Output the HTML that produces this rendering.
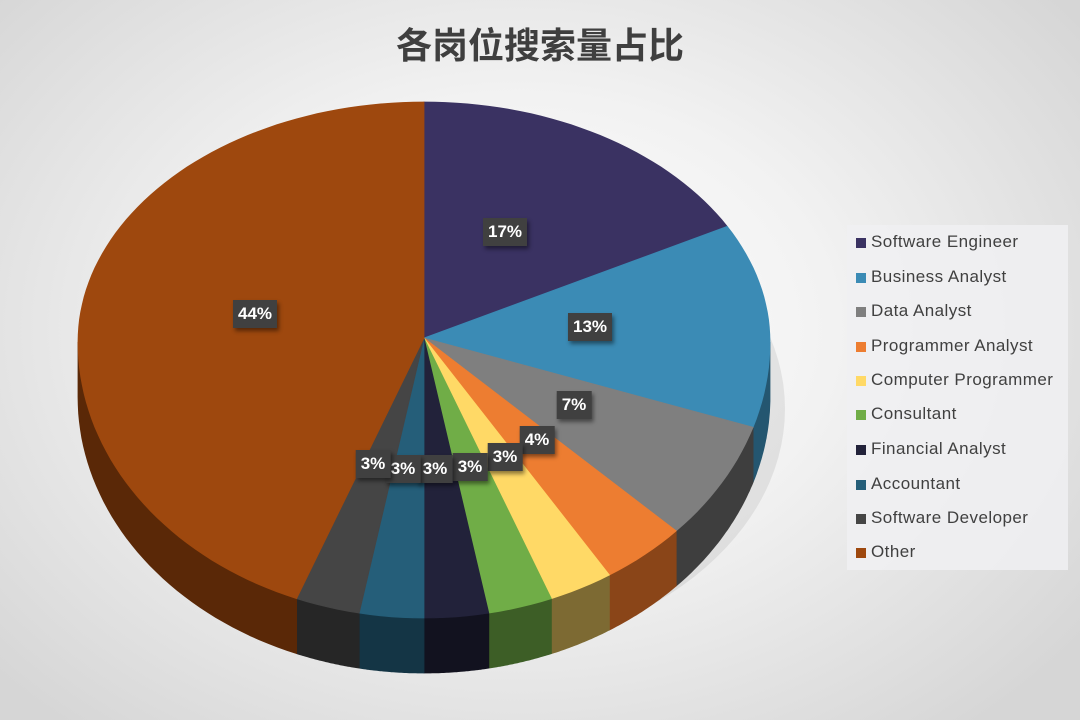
<!DOCTYPE html>
<html><head><meta charset="utf-8">
<style>
html,body{margin:0;padding:0;}
body{width:1080px;height:720px;overflow:hidden;position:relative;
background:radial-gradient(ellipse 700px 520px at 520px 330px,#ffffff 0%,#f2f2f2 45%,#d6d6d6 100%);
font-family:"Liberation Sans","Noto Sans CJK SC",sans-serif;}
.title{position:absolute;left:0;width:1080px;top:17px;text-align:center;font-size:36px;font-weight:bold;color:#3f3f3f;font-family:"Liberation Sans","Noto Sans CJK SC",sans-serif;}
.legend{position:absolute;left:847px;top:225px;width:221px;height:345px;background:rgba(240,240,242,0.85);}
.li{position:absolute;left:24px;font-size:17px;letter-spacing:0.45px;color:#404040;white-space:nowrap;}
.li i{position:absolute;left:-15px;top:6px;width:10px;height:10px;}
.lab{position:absolute;background:#404040;color:#fff;font-weight:bold;font-size:17px;padding:4px 5px;box-shadow:2px 3px 4px rgba(0,0,0,0.45);transform:translate(-50%,-50%);}
</style></head><body>
<div class="title">各岗位搜索量占比</div>
<svg id="pie" width="1080" height="720" style="position:absolute;left:0;top:0"></svg>
<div class="legend">
<div class="li" style="top:7px"><i style="background:#3a3262"></i>Software Engineer</div>
<div class="li" style="top:42px"><i style="background:#3b8bb5"></i>Business Analyst</div>
<div class="li" style="top:76px"><i style="background:#7f7f7f"></i>Data Analyst</div>
<div class="li" style="top:111px"><i style="background:#ed7d31"></i>Programmer Analyst</div>
<div class="li" style="top:145px"><i style="background:#ffd966"></i>Computer Programmer</div>
<div class="li" style="top:179px"><i style="background:#70ad47"></i>Consultant</div>
<div class="li" style="top:214px"><i style="background:#22223a"></i>Financial Analyst</div>
<div class="li" style="top:249px"><i style="background:#255e79"></i>Accountant</div>
<div class="li" style="top:283px"><i style="background:#454545"></i>Software Developer</div>
<div class="li" style="top:317px"><i style="background:#9e480e"></i>Other</div>
</div>
<div class="lab" style="left:505px;top:232px">17%</div>
<div class="lab" style="left:590px;top:327px">13%</div>
<div class="lab" style="left:574px;top:405px">7%</div>
<div class="lab" style="left:537px;top:440px">4%</div>
<div class="lab" style="left:505px;top:457px">3%</div>
<div class="lab" style="left:470px;top:467px">3%</div>
<div class="lab" style="left:435px;top:469px">3%</div>
<div class="lab" style="left:403px;top:469px">3%</div>
<div class="lab" style="left:373px;top:464px">3%</div>
<div class="lab" style="left:255px;top:314px">44%</div>
<script>
(function(){
var svg=document.getElementById('pie');
var cx=424,cy=342,rx=346,ax=424,ay=338,D=55;
var data=[[17,'#3a3262','#241e3e'],[13,'#3b8bb5','#245670'],[7,'#7f7f7f','#3e3e3e'],[4,'#ed7d31','#8a4518'],[3,'#ffd966','#7d6a33'],[3,'#70ad47','#3d5e26'],[3,'#22223a','#12121f'],[3,'#255e79','#143545'],[3,'#454545','#262626'],[44,'#9e480e','#5a2807']];
function pt(t,dy){var c=Math.cos(t);var ry=c>0?240:276;return [cx+rx*Math.sin(t),cy-ry*c+(dy||0)];}
var out='',tops='',a=0;
data.forEach(function(d){
 var a1=a*Math.PI/50, a2=(a+d[0])*Math.PI/50; a+=d[0];
 var s=Math.max(a1,Math.PI/2), e=Math.min(a2,3*Math.PI/2);
 if(e>s){
  var p='',n=40,i,q;
  for(i=0;i<=n;i++){q=pt(s+(e-s)*i/n);p+=(i?'L':'M')+q[0].toFixed(1)+' '+q[1].toFixed(1);}
  for(i=n;i>=0;i--){q=pt(s+(e-s)*i/n,D);p+='L'+q[0].toFixed(1)+' '+q[1].toFixed(1);}
  out+='<path d="'+p+'Z" fill="'+d[2]+'" stroke="'+d[2]+'" stroke-width="0.8"/>';
 }
 var p2='M'+ax+' '+ay,n2=Math.max(4,Math.ceil(d[0]*2)),j,r;
 for(j=0;j<=n2;j++){r=pt(a1+(a2-a1)*j/n2);p2+='L'+r[0].toFixed(1)+' '+r[1].toFixed(1);}
 tops+='<path d="'+p2+'Z" fill="'+d[1]+'" stroke="'+d[1]+'" stroke-width="0.8"/>';
});
svg.innerHTML='<ellipse cx="'+(cx+10)+'" cy="'+(cy+D+12)+'" rx="'+(rx+5)+'" ry="250" fill="rgba(0,0,0,0.07)"/>'+out+tops;
})();
</script>
</body></html>
